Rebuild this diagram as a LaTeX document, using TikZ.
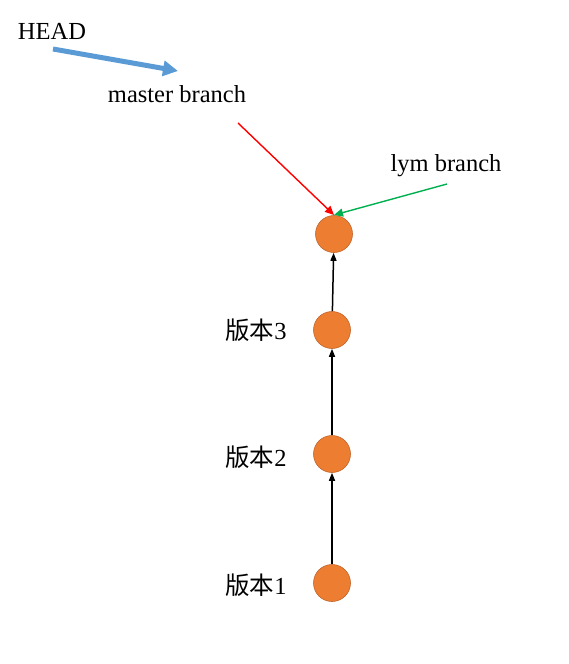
\documentclass[tikz,border=0pt]{standalone}
\usepackage{fontspec}
\setmainfont{Liberation Serif}
\newfontfamily\cjk{Noto Sans CJK SC}
\usetikzlibrary{arrows.meta}
\definecolor{commitfill}{HTML}{ED7D31}
\definecolor{commitdraw}{HTML}{C0642A}
\definecolor{headblue}{HTML}{5B9BD5}
\definecolor{lymgreen}{HTML}{00B050}
\tikzset{
  commit/.style={circle,fill=commitfill,draw=commitdraw,line width=0.6pt,minimum size=37pt,inner sep=0pt},
  lbl/.style={font=\fontsize{24.5}{28}\selectfont,inner sep=0pt,anchor=center},
  parent/.style={-{Triangle[length=8pt,width=6pt]},line width=1.5pt,black},
  pointer/.style={-{Triangle[length=9pt,width=8pt]},line width=1.4pt},
}
\begin{document}
\begin{tikzpicture}[x=1pt,y=-1pt]
\useasboundingbox (0,0) rectangle (569,664);
% commits
\node[commit] (c4) at (334,234) {};
\node[commit] (c3) at (332,330) {};
\node[commit] (c2) at (332,454) {};
\node[commit] (c1) at (332,583) {};
% labels
\node[lbl] (head) at (52,31) {HEAD};
\node[lbl] (master) at (177,94) {master branch};
\node[lbl] (lym) at (446,166) {lym branch};
\node[lbl] (v3) at (256,330) {{\cjk 版本}3};
\node[lbl] (v2) at (256,457) {{\cjk 版本}2};
\node[lbl] (v1) at (256,585) {{\cjk 版本}1};
% pointer endpoints
\coordinate (hs) at (53,49);
\coordinate (he) at (178,71);
\coordinate (ms) at (238,123);
\coordinate (ls) at (447,184);
\coordinate (tip) at (334,215);
% arrows
\draw[-{Triangle[length=15pt,width=15pt]},line width=5pt,headblue] (hs) -- (he);
\draw[pointer,red] (ms) -- (tip);
\draw[pointer,lymgreen] (ls) -- (tip);
\draw[parent] (c3) -- (c4);
\draw[parent] (c2) -- (c3);
\draw[parent] (c1) -- (c2);
\end{tikzpicture}
\end{document}
